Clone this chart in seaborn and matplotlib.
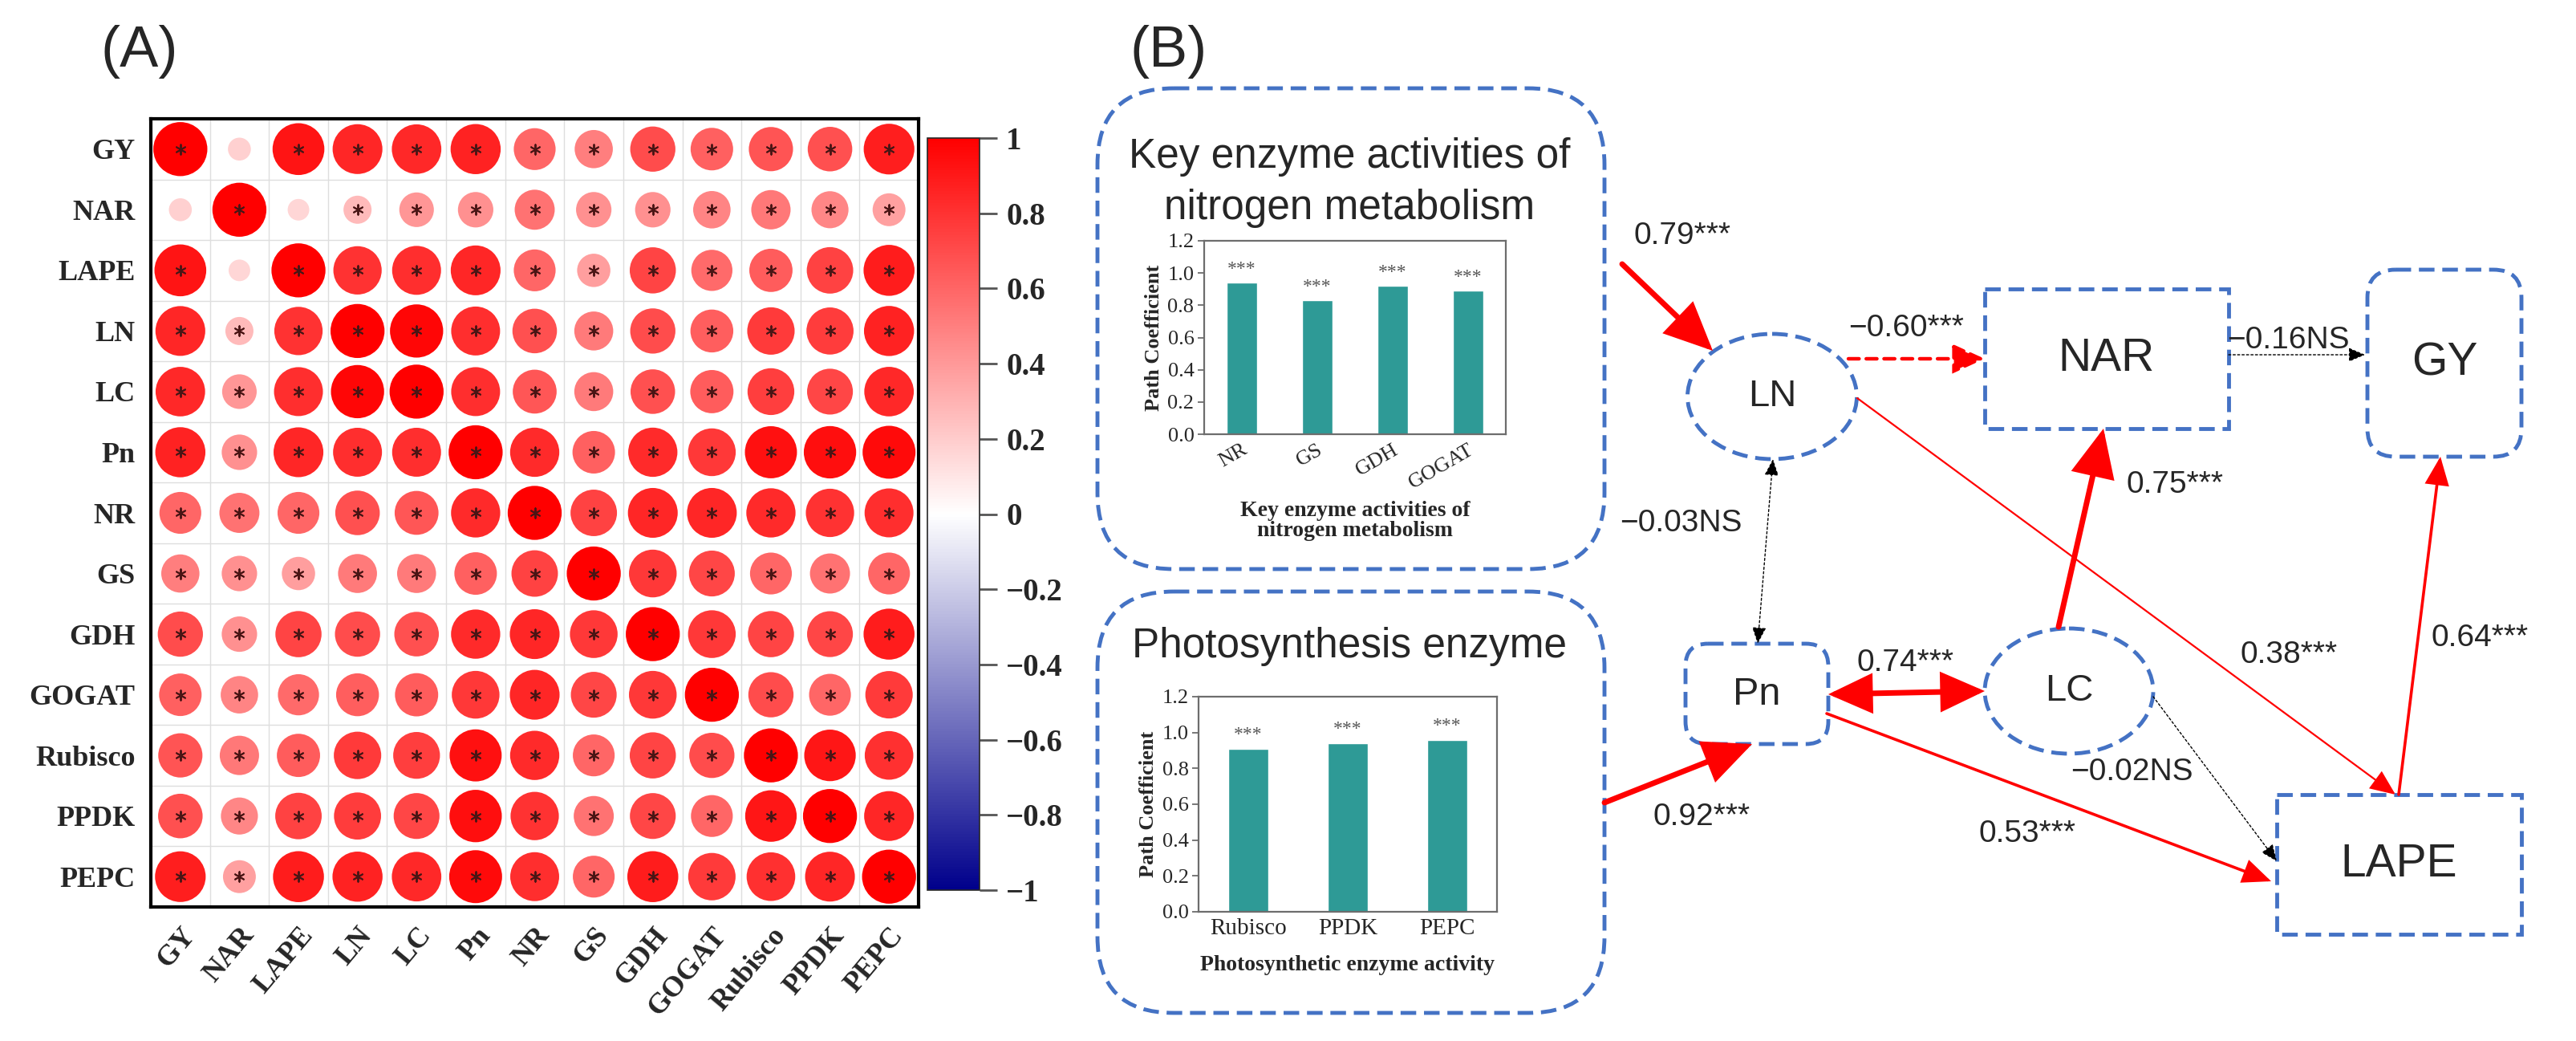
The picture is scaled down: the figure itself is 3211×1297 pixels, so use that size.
import numpy as np
import pandas as pd
import matplotlib
matplotlib.use("Agg")
import matplotlib.pyplot as plt
import seaborn as sns
from matplotlib.colors import LinearSegmentedColormap, Normalize
from matplotlib.cm import ScalarMappable
from matplotlib.patches import FancyBboxPatch, Ellipse, FancyArrowPatch

W, H = 3211, 1297
sns.set_theme(style="white")
plt.rcParams["font.family"] = ["Liberation Sans", "DejaVu Sans"]
SERIF = ["Liberation Serif", "DejaVu Serif"]

# ---- (A) correlation matrix, upper triangle ----
traits = ["GY", "NAR", "LAPE", "LN", "LC", "Pn", "NR", "GS", "GDH", "GOGAT", "Rubisco", "PPDK", "PEPC"]
r_GY = [1.00, 0.18, 0.92, 0.85, 0.84, 0.86, 0.60, 0.50, 0.70, 0.62, 0.67, 0.68, 0.88]
r_NAR = [1.00, 0.16, 0.27, 0.41, 0.43, 0.55, 0.43, 0.43, 0.48, 0.53, 0.47, 0.37]
r_LAPE = [1.00, 0.80, 0.82, 0.85, 0.60, 0.38, 0.73, 0.58, 0.64, 0.74, 0.89]
r_LN = [1.00, 0.97, 0.82, 0.68, 0.52, 0.70, 0.63, 0.77, 0.76, 0.86]
r_LC = [1.00, 0.82, 0.66, 0.52, 0.68, 0.64, 0.75, 0.72, 0.84]
r_Pn = [1.00, 0.83, 0.62, 0.83, 0.78, 0.93, 0.94, 0.96]
r_NR = [1.00, 0.74, 0.85, 0.85, 0.83, 0.80, 0.82]
r_GS = [1.00, 0.78, 0.72, 0.60, 0.55, 0.60]
r_GDH = [1.00, 0.78, 0.73, 0.72, 0.89]
r_GOGAT = [1.00, 0.70, 0.60, 0.77]
r_Rubisco = [1.00, 0.91, 0.81]
r_PPDK = [1.00, 0.85]
r_PEPC = [1.00]
not_signif = [("GY", "NAR"), ("NAR", "LAPE")]

# ---- (B) inset bar charts ----
nitro_enz = ["NR", "GS", "GDH", "GOGAT"]
nitro_coef = [0.94, 0.83, 0.92, 0.89]
photo_enz = ["Rubisco", "PPDK", "PEPC"]
photo_coef = [0.91, 0.94, 0.96]

# ---- (B) path coefficients ----
path_coef = [0.79, -0.60, -0.16, -0.03, 0.75, 0.38, 0.64, 0.74, -0.02, 0.92, 0.53]
path_sig = ["***", "***", "NS", "NS", "***", "***", "***", "***", "NS", "***", "***"]

# build symmetric matrix
upper = [r_GY, r_NAR, r_LAPE, r_LN, r_LC, r_Pn, r_NR, r_GS, r_GDH, r_GOGAT, r_Rubisco, r_PPDK, r_PEPC]
n = len(traits)
M = np.zeros((n, n))
for i, row in enumerate(upper):
    for k, v in enumerate(row):
        M[i, i + k] = v
        M[i + k, i] = v
ns = set()
for a, b in not_signif:
    ns.add((traits.index(a), traits.index(b)))
    ns.add((traits.index(b), traits.index(a)))
df = pd.DataFrame([(i, j, M[i, j], (i, j) not in ns) for i in range(n) for j in range(n)],
                  columns=["row", "col", "r", "sig"])
df["absr"] = df["r"].abs()

cmap = LinearSegmentedColormap.from_list("corr", ["#00008B", "#FFFFFF", "#FF0000"])

fig = plt.figure(figsize=(W / 100, H / 100), dpi=100)


def px_axes(x0, y0, x1, y1):
    return fig.add_axes([x0 / W, 1 - y1 / H, (x1 - x0) / W, (y1 - y0) / H])


# canvas for the path diagram (pixel coordinates)
axd = fig.add_axes([0, 0, 1, 1])
axd.set_xlim(0, W)
axd.set_ylim(H, 0)
axd.axis("off")

# correlation circles
ax = px_axes(188, 148, 1145, 1130)
for k in np.arange(-0.5, n, 1):
    ax.axhline(k, color="#dedede", lw=1, zorder=0)
    ax.axvline(k, color="#dedede", lw=1, zorder=0)
sns.scatterplot(data=df, x="col", y="row", hue="r", hue_norm=(-1, 1), palette=cmap,
                size="absr", size_norm=(0, 1), sizes=(0, 2350), linewidth=0,
                legend=False, ax=ax, zorder=2)
sns.scatterplot(data=df[df["sig"]], x="col", y="row", marker=(6, 2, 0), s=80,
                color="#4a1515", linewidth=1.4, legend=False, ax=ax, zorder=3)
ax.set_xlim(-0.5, n - 0.5)
ax.set_ylim(n - 0.5, -0.5)
ax.set_xticks(range(n))
ax.set_yticks(range(n))
ax.set_xticklabels(traits, rotation=50, ha="right", va="top", rotation_mode="anchor",
                   family=SERIF, fontweight="bold", fontsize=26)
ax.set_yticklabels(traits, family=SERIF, fontweight="bold", fontsize=26)
ax.tick_params(length=0, pad=14)
ax.set_xlabel("")
ax.set_ylabel("")
for s in ax.spines.values():
    s.set_color("black")
    s.set_linewidth(3)

# colour bar
cax = px_axes(1156, 172, 1221, 1109)
cb = fig.colorbar(ScalarMappable(norm=Normalize(-1, 1), cmap=cmap), cax=cax)
ticks = np.round(np.arange(-1, 1.01, 0.2), 1) + 0.0
cb.set_ticks(ticks)
cb.set_ticklabels([("0" if abs(t) < 1e-9 else f"{t:g}".replace("-", "\u2212")) for t in ticks])
cb.ax.tick_params(length=16, width=2, color="#555555", labelsize=28, pad=8)
for lab in cb.ax.get_yticklabels():
    lab.set_family(SERIF)
    lab.set_fontweight("bold")
cb.outline.set_linewidth(1.2)

# panel letters
axd.text(174, 65, "(A)", fontsize=52, ha="center", va="center")
axd.text(1457, 65, "(B)", fontsize=52, ha="center", va="center")

BLUE = "#4472C4"
RED = "#FF0000"
DASH = (0, (4, 2))


def dashed_box(x0, y0, x1, y1, rad=0):
    style = f"round,pad=0,rounding_size={rad}" if rad else "square,pad=0"
    axd.add_patch(FancyBboxPatch((x0, y0), x1 - x0, y1 - y0, boxstyle=style, fill=False,
                                 ec=BLUE, lw=3.5, ls=DASH))


def dashed_ellipse(cx, cy, w, h):
    axd.add_patch(Ellipse((cx, cy), w, h, fill=False, ec=BLUE, lw=3.5, ls=DASH))


# inset frames and titles
dashed_box(1368, 110, 2000, 709, 95)
dashed_box(1368, 737, 2000, 1262, 95)
axd.text(1682, 195, "Key enzyme activities of", fontsize=37, ha="center", va="center")
axd.text(1682, 259, "nitrogen metabolism", fontsize=37, ha="center", va="center")
axd.text(1682, 806, "Photosynthesis enzyme", fontsize=37, ha="center", va="center")

TEAL = "#2E9A96"


def bar_inset(box, names, vals, xlabel, rot, lpad):
    a = px_axes(*box)
    sns.barplot(x=names, y=vals, color=TEAL, saturation=1, width=0.4, ax=a)
    for k, v in enumerate(vals):
        a.text(k, v + 0.03, "***", ha="center", va="bottom", fontsize=17,
               color="#555555", family=SERIF)
    a.set_ylim(0, 1.2)
    a.set_xlim(-0.5, len(vals) - 0.5)
    a.set_yticks(np.arange(0, 1.21, 0.2))
    a.set_yticklabels([f"{t:.1f}" for t in np.arange(0, 1.21, 0.2)], family=SERIF, fontsize=19)
    a.set_xticks(range(len(names)))
    if rot:
        a.set_xticklabels(names, rotation=rot, ha="right", va="top", rotation_mode="anchor",
                          family=SERIF, fontsize=19)
    else:
        a.set_xticklabels(names, family=SERIF, fontsize=21)
    a.tick_params(axis="y", left=True, direction="out", length=6, color="#666666", pad=3)
    a.tick_params(axis="x", bottom=True, direction="in", length=5, color="#333333", pad=6)
    a.set_ylabel("Path Coefficient", family=SERIF, fontweight="bold", fontsize=19, labelpad=4)
    a.set_xlabel(xlabel, family=SERIF, fontweight="bold", fontsize=20, linespacing=1.0,
                 labelpad=lpad)
    for s in a.spines.values():
        s.set_color("#6d6d6d")
        s.set_linewidth(1.6)
    return a


bar_inset((1501, 300, 1877, 541), nitro_enz, nitro_coef,
          "Key enzyme activities of\nnitrogen metabolism", 30, 8)
bar_inset((1494, 868, 1866, 1136), photo_enz, photo_coef,
          "Photosynthetic enzyme activity", 0, 14)

# path diagram nodes
dashed_ellipse(2209, 494, 211, 156)
axd.text(2209, 494, "LN", fontsize=34, ha="center", va="center")
dashed_box(2474, 360, 2778, 534)
axd.text(2626, 447, "NAR", fontsize=41, ha="center", va="center")
dashed_box(2951, 336, 3143, 569, 35)
axd.text(3047, 452, "GY", fontsize=41, ha="center", va="center")
dashed_box(2101, 802, 2279, 927, 28)
axd.text(2190, 865, "Pn", fontsize=35, ha="center", va="center")
dashed_ellipse(2579, 861, 210, 156)
axd.text(2579, 861, "LC", fontsize=34, ha="center", va="center")
dashed_box(2838, 990, 3143, 1164)
axd.text(2990, 1077, "LAPE", fontsize=41, ha="center", va="center")

# arrows: (start, end, kind)
STYLES = {
    "thick": dict(arrowstyle="-|>,head_length=0.7,head_width=0.32", lw=5, color=RED, ms=50),
    "thick2": dict(arrowstyle="<|-|>,head_length=0.7,head_width=0.32", lw=5, color=RED, ms=45),
    "mid": dict(arrowstyle="-|>,head_length=0.7,head_width=0.3", lw=2.6, color=RED, ms=30),
    "thin": dict(arrowstyle="-|>,head_length=0.7,head_width=0.3", lw=1.6, color=RED, ms=28),
    "dash": dict(arrowstyle="-|>,head_length=0.7,head_width=0.32", lw=3.2, color=RED, ms=34, ls=(0, (3, 2))),
    "dot": dict(arrowstyle="-|>,head_length=0.7,head_width=0.3", lw=1, color="black", ms=18, ls=(0, (2, 2))),
    "dot2": dict(arrowstyle="<|-|>,head_length=0.7,head_width=0.3", lw=1, color="black", ms=18, ls=(0, (2, 2))),
}
arrows = [
    ((2022, 329), (2135, 437), "thick"),
    ((2304, 447), (2474, 447), "dash"),
    ((2778, 442), (2948, 442), "dot"),
    ((2210, 572), (2191, 802), "dot2"),
    ((2315, 496), (2986, 990), "thin"),
    ((2566, 781), (2622, 534), "thick"),
    ((2279, 865), (2474, 861), "thick2"),
    ((2277, 889), (2831, 1098), "mid"),
    ((2684, 868), (2838, 1073), "dot"),
    ((2990, 990), (3042, 569), "mid"),
    ((2000, 1000), (2184, 927), "thick"),
]
for (pa, pb, kind) in arrows:
    st = STYLES[kind]
    axd.add_patch(FancyArrowPatch(pa, pb, arrowstyle=st["arrowstyle"], mutation_scale=st["ms"],
                                  lw=st["lw"], color=st["color"], ls=st.get("ls", "-"),
                                  shrinkA=0, shrinkB=0, joinstyle="miter"))

label_pos = [(2037, 294), (2304, 409), (2776, 424), (2019, 652), (2651, 604), (2793, 816),
             (3031, 795), (2315, 826), (2581, 962), (2060, 1018), (2466, 1039)]
for v, s, (x, y) in zip(path_coef, path_sig, label_pos):
    axd.text(x, y, f"{v:.2f}".replace("-", "\u2212") + s, fontsize=28, ha="left", va="center")

fig.savefig("out.png", dpi=100)
